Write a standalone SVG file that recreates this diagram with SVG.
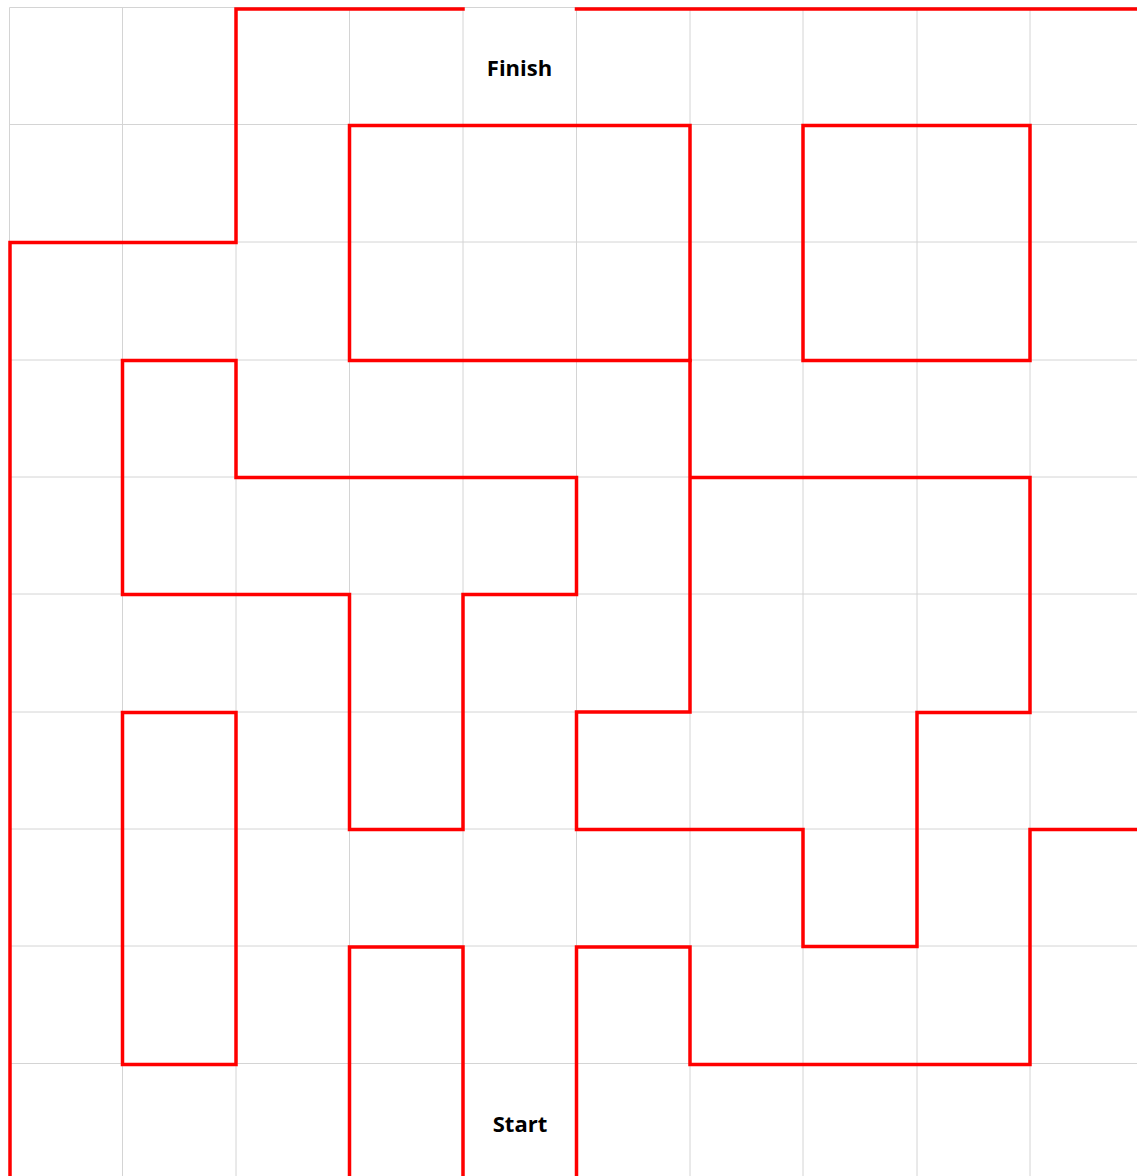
<svg xmlns="http://www.w3.org/2000/svg" width="1137" height="1176" viewBox="0 0 1137 1176">
<style>
.g{stroke:#d4d4d4;stroke-width:1;fill:none}
.w{stroke:#ff0000;stroke-width:3.5;fill:none;stroke-linejoin:miter;stroke-linecap:square}
.t{font-family:"Open Sans","Liberation Sans",sans-serif;font-weight:bold;font-size:22px;fill:#000;text-anchor:middle}
</style>
<rect width="1137" height="1176" fill="#fff"/>
<g id="grid" class="g">
<path d="M9.5 7.5V1176M122.5 7.5V1176M236 7.5V1176M349.5 7.5V1176M463 7.5V1176M576.5 7.5V1176M690 7.5V1176M803 7.5V1176M917 7.5V1176M1030 7.5V1176"/>
<path d="M9.5 7.5H1137M9.5 124.5H1137M9.5 242H1137M9.5 360H1137M9.5 477H1137M9.5 594H1137M9.5 712H1137M9.5 829H1137M9.5 946H1137M9.5 1063.5H1137"/>
</g>
<g id="walls" class="w">
<path d="M463 9H236V242.5H10V1180"/>
<path d="M576.5 9H1140"/>
<path d="M349.5 125.5H690V360.5H349.5Z"/>
<path d="M690 360.5V712H576.5V829.5H803V946.5H917V712.5H1030V477.5H690"/>
<path d="M803 125.5H1030V360.5H803Z"/>
<path d="M122.5 360.5H236V477.5H576.5V594.5H463V829.5H349.5V594.5H122.5Z"/>
<path d="M122.5 712.5H236V1064.5H122.5Z"/>
<path d="M349.5 1180V947H463V1180"/>
<path d="M576.5 1180V947H690V1064.5H1030V829.5H1140"/>
</g>
<g id="finish"><text class="t" x="519.5" y="76">Finish</text></g>
<g id="start"><text class="t" x="520" y="1132">Start</text></g>
</svg>
